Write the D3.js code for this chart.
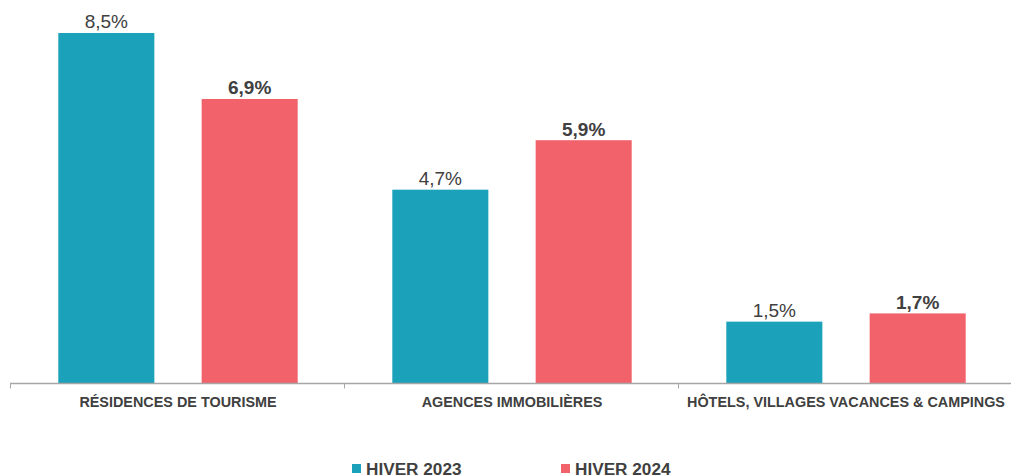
<!DOCTYPE html>
<html>
<head>
<meta charset="utf-8">
<script src="https://cdnjs.cloudflare.com/ajax/libs/d3/7.8.5/d3.min.js"></script>
<style>
  body { margin: 0; background: #fff; }
  svg { display: block; font-family: 'Liberation Sans', Arial, sans-serif; }
</style>
</head>
<body>
<div id="chart"></div>
<script>
const categories = ['RÉSIDENCES DE TOURISME', 'AGENCES IMMOBILIÈRES', 'HÔTELS, VILLAGES VACANCES & CAMPINGS'];
const seriesNames = ['HIVER 2023', 'HIVER 2024'];
const hiver2023 = [8.5, 4.7, 1.5];
const hiver2024 = [6.9, 5.9, 1.7];
const seriesColors = ['#1BA1B9', '#F2626A'];

const W = 1011, H = 476;
const baseY = 383.5;

const svg = d3.select('#chart').append('svg')
  .attr('width', W)
  .attr('height', H);

const x = d3.scaleBand()
  .domain(categories)
  .range([11, 1013])
  .paddingInner(0)
  .paddingOuter(0);

const xSub = d3.scaleBand()
  .domain(seriesNames)
  .range([0, x.bandwidth()])
  .paddingInner(0.33)
  .paddingOuter(0.33);

const y = d3.scaleLinear()
  .domain([0, 9.3])
  .range([baseY, 0]);

const rows = [];
categories.forEach((c, i) => {
  rows.push({cat: c, s: seriesNames[0], v: hiver2023[i], k: 0});
  rows.push({cat: c, s: seriesNames[1], v: hiver2024[i], k: 1});
});

const fmt = v => d3.format('.1f')(v).replace('.', ',') + '%';

// bars
svg.append('g').selectAll('rect')
  .data(rows)
  .enter()
  .append('rect')
  .attr('x', d => x(d.cat) + xSub(d.s))
  .attr('y', d => y(d.v))
  .attr('width', xSub.bandwidth())
  .attr('height', d => baseY - y(d.v))
  .attr('fill', d => seriesColors[d.k]);

// value labels
svg.append('g').selectAll('text')
  .data(rows)
  .enter()
  .append('text')
  .attr('x', d => x(d.cat) + xSub(d.s) + xSub.bandwidth() / 2)
  .attr('y', d => y(d.v) - 4.5)
  .attr('text-anchor', 'middle')
  .attr('font-size', 19)
  .attr('font-weight', d => d.k === 1 ? 'bold' : 'normal')
  .attr('fill', '#404040')
  .text(d => fmt(d.v));

// x axis
const axis = svg.append('g')
  .attr('transform', 'translate(0,' + baseY + ')');

axis.append('line')
  .attr('x1', 10)
  .attr('x2', W)
  .attr('stroke', '#A6A6A6')
  .attr('stroke-width', 1.3);

const tickPos = categories.map(c => x(c) - 0.5);
axis.selectAll('.tick')
  .data(tickPos)
  .enter()
  .append('line')
  .attr('x1', d => d)
  .attr('x2', d => d)
  .attr('y1', 0)
  .attr('y2', 5)
  .attr('stroke', '#A6A6A6')
  .attr('stroke-width', 1);

axis.selectAll('.cat')
  .data(categories)
  .enter()
  .append('text')
  .attr('x', d => x(d) + x.bandwidth() / 2)
  .attr('y', 23)
  .attr('text-anchor', 'middle')
  .attr('font-size', 14.4)
  .attr('font-weight', 'bold')
  .attr('fill', '#404040')
  .text(d => d);

// legend
const legendX = [352, 561];
const legend = svg.append('g');
const items = legend.selectAll('g')
  .data(seriesNames)
  .enter()
  .append('g')
  .attr('transform', (d, i) => 'translate(' + legendX[i] + ',464)');

items.append('rect')
  .attr('width', 9)
  .attr('height', 9)
  .attr('fill', (d, i) => seriesColors[i]);

items.append('text')
  .attr('x', 14)
  .attr('y', 10.5)
  .attr('font-size', 17.2)
  .attr('font-weight', 'bold')
  .attr('fill', '#404040')
  .text(d => d);
</script>
</body>
</html>
